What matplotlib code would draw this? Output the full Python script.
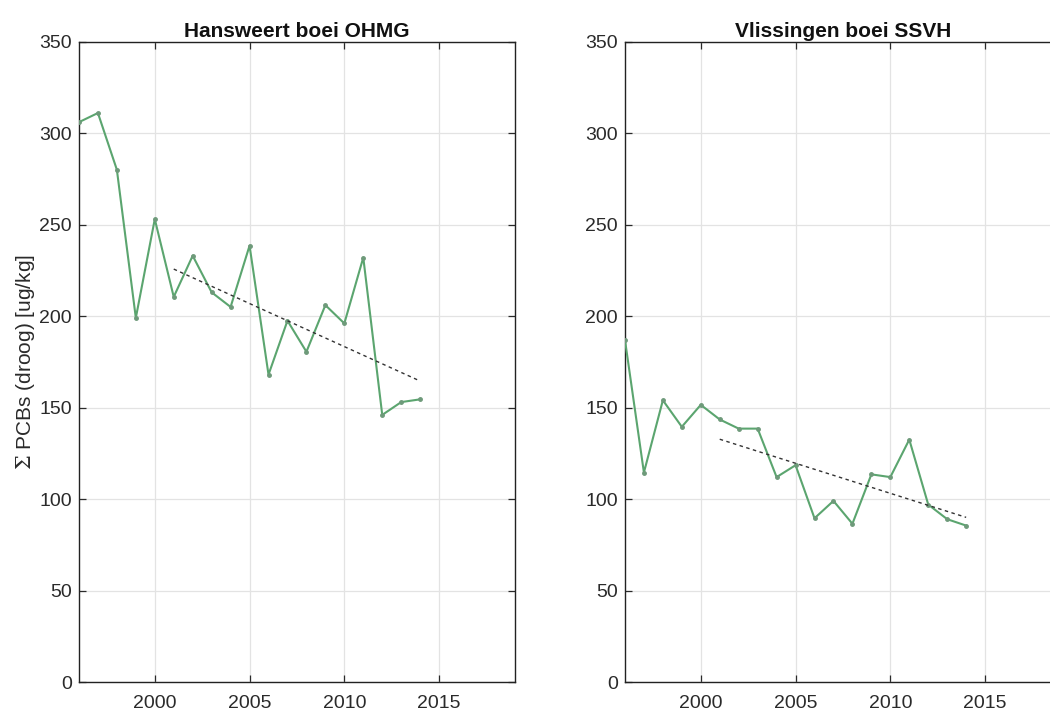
import matplotlib
matplotlib.use("Agg")
import matplotlib.pyplot as plt

years = list(range(1996, 2015))
hansweert = [306, 311, 280, 199, 253, 210.5, 233, 213, 205, 238.5, 168, 197.5, 180.5, 206, 196, 232, 146, 153, 154.5]
vlissingen = [187, 114.5, 154, 139.5, 151.5, 143.5, 138.5, 138.5, 112, 118.5, 89.5, 99, 86.5, 113.5, 112, 132.5, 97, 89, 85.5]
trend_years = [2001, 2014]
hansweert_trend = [225.7, 164.5]
vlissingen_trend = [132.7, 90]

titles = ["Hansweert boei OHMG", "Vlissingen boei SSVH"]
ylabel = "$\\Sigma$ PCBs (droog) [ug/kg]"
xticks = [2000, 2005, 2010, 2015]
yticks = [0, 50, 100, 150, 200, 250, 300, 350]

plt.rcParams['font.family'] = ['Liberation Sans', 'DejaVu Sans']
plt.rcParams['mathtext.fontset'] = 'dejavuserif'

fig = plt.figure(figsize=(10.5, 7.12), dpi=100)
positions = [[0.0752, 0.0421, 0.4152, 0.8994], [0.5952, 0.0421, 0.4152, 0.8994]]
series = [hansweert, vlissingen]
trends = [hansweert_trend, vlissingen_trend]
green = '#5ba56f'

for i in range(2):
    ax = fig.add_axes(positions[i])
    ax.plot(years, series[i], color=green, lw=1.5, marker='o', ms=2.5,
            mfc='#6e9a7a', mec='#6e9a7a', zorder=3)
    ax.plot(trend_years, trends[i], color='#333333', lw=1.0, ls=(0, (2.5, 2.5)), zorder=4)
    ax.set_xlim(1996, 2019)
    ax.set_ylim(0, 350)
    ax.set_xticks(xticks)
    ax.set_yticks(yticks)
    ax.grid(True, color='#e3e3e3', lw=0.9)
    ax.set_axisbelow(True)
    ax.tick_params(direction='in', top=True, right=True, length=5, width=0.9,
                   labelsize=14, colors='#2a2a2a', pad=5)
    ax.tick_params(axis='x', pad=9)
    for s in ax.spines.values():
        s.set_color('#222222')
        s.set_linewidth(1.0)
    ax.set_title(titles[i], fontsize=15, fontweight='bold', pad=3, color='#111111')
    if i == 0:
        ax.set_ylabel(ylabel, fontsize=15, color='#2a2a2a', labelpad=2)

fig.savefig('out.png', dpi=100)
